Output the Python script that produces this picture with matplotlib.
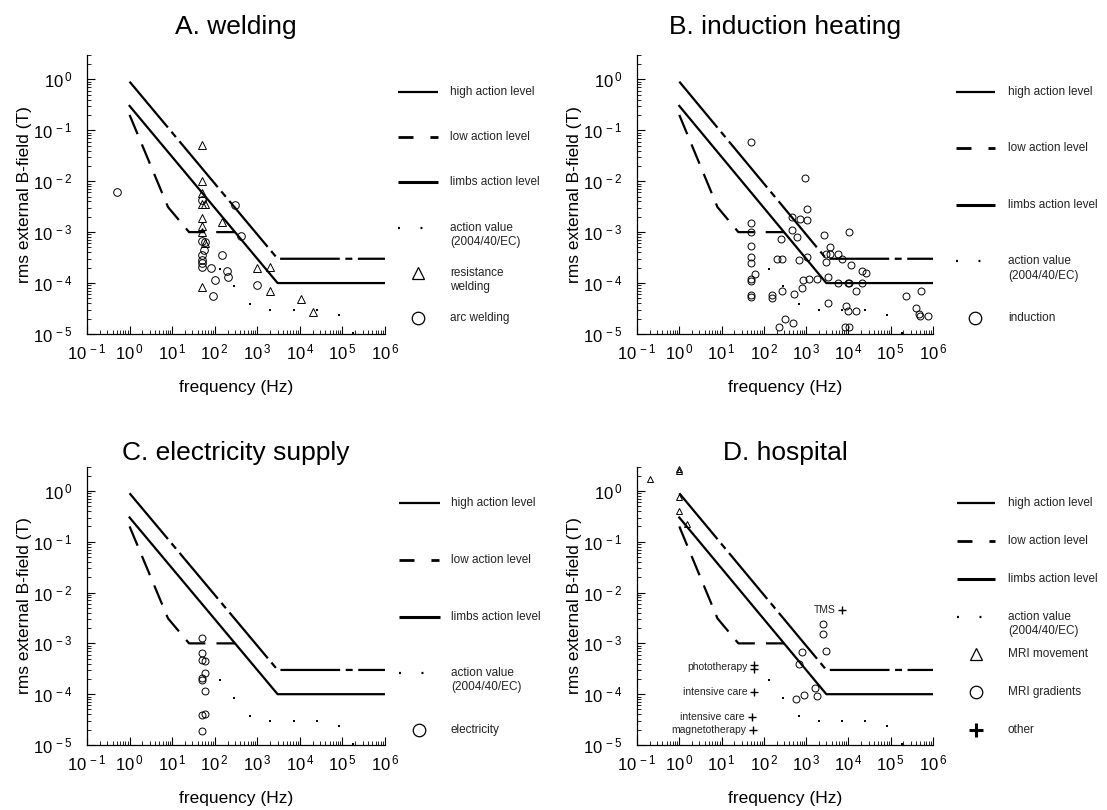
import numpy as np
import matplotlib.pyplot as plt
from matplotlib.ticker import FixedLocator, LogLocator, NullFormatter, FuncFormatter

plt.rcParams['font.family'] = ['Liberation Sans', 'DejaVu Sans']
plt.rcParams['mathtext.default'] = 'regular'
plt.rcParams['lines.scale_dashes'] = False

# limit curves (frequency in Hz, B in T)
hal_f = [1, 3000, 1e6]          # high action level (solid)
hal_B = [0.3, 1e-4, 1e-4]
lal_f = [1, 8, 25, 300]         # low action level (dashed)
lal_B = [0.2, 3.1e-3, 1e-3, 1e-3]
limbs_f = [1, 3000, 1e6]        # limbs action level (dash-dot)
limbs_B = [0.9, 3e-4, 3e-4]
av_f = [130, 290, 660, 2000, 7100, 25000, 81000, 180000]   # action value 2004/40/EC
av_B = [1.9e-4, 8.6e-5, 3.8e-5, 3.0e-5, 3.0e-5, 3.0e-5, 2.4e-5, 1.05e-5]

# A. welding
arc_f = [0.5, 50, 50, 57, 50, 50, 50, 50, 60, 300, 420, 147, 83, 193, 200, 99, 89, 980]
arc_B = [6.2e-3, 4.3e-3, 6.8e-4, 4.5e-4, 3.6e-4, 2.9e-4, 2.5e-4, 2.1e-4, 6.4e-4,
         3.4e-3, 8.3e-4, 3.6e-4, 2.0e-4, 1.7e-4, 1.3e-4, 1.15e-4, 5.6e-5, 9.2e-5]
res_f = [50, 50, 50, 50, 60, 50, 50, 50, 147, 60, 50, 980, 2000, 2000, 10700, 20000]
res_B = [0.052, 1.0e-2, 5.9e-3, 3.5e-3, 3.6e-3, 1.9e-3, 1.3e-3, 1.0e-3, 1.6e-3,
         6.1e-4, 8.5e-5, 2.0e-4, 2.1e-4, 7.1e-5, 4.9e-5, 2.7e-5]

# B. induction heating
ind_f = [50, 50, 50, 50, 50, 50, 50, 50, 62, 50,
         50, 154, 154, 200, 265, 255, 265, 230, 316, 500,
         525, 470, 620, 470, 710, 690, 800, 830, 940, 1020,
         1020, 1020, 1150, 1780, 2640, 2940, 3000, 3600, 3600, 3300,
         3300, 5700, 5700, 7100, 10500, 11400, 9000, 10000, 15500, 15500,
         10000, 10500, 21000, 21000, 26000, 8300, 10400, 234000, 510000, 405000,
         457000, 480000, 760000]
ind_B = [0.06, 1.5e-3, 1.0e-3, 5.4e-4, 3.2e-4, 2.5e-4, 1.2e-4, 1.1e-4, 1.5e-4, 5.8e-5,
         5.4e-5, 5.8e-5, 5.0e-5, 3.0e-4, 3.0e-4, 7.2e-4, 7.1e-5, 1.4e-5, 2.0e-5, 1.65e-5,
         6.0e-5, 1.1e-3, 8.1e-4, 2.0e-3, 1.8e-3, 2.9e-4, 8.0e-5, 1.15e-4, 1.14e-2, 2.9e-3,
         1.7e-3, 3.2e-4, 1.2e-4, 1.2e-4, 8.7e-4, 2.6e-4, 3.8e-4, 3.8e-4, 5.0e-4, 1.3e-4,
         4.0e-5, 3.8e-4, 1.0e-4, 3.0e-4, 1.0e-3, 2.3e-4, 3.5e-5, 2.8e-5, 2.8e-5, 7.0e-5,
         1.0e-4, 1.0e-4, 1.0e-4, 1.7e-4, 1.6e-4, 1.35e-5, 1.35e-5, 5.6e-5, 6.9e-5, 3.2e-5,
         2.5e-5, 2.3e-5, 2.3e-5]

# C. electricity supply
el_f = [50, 50, 50, 60, 60, 50, 50, 60, 50, 60, 50]
el_B = [1.3e-3, 6.6e-4, 4.7e-4, 4.4e-4, 2.6e-4, 2.1e-4, 1.9e-4, 1.15e-4, 3.9e-5, 4.0e-5, 1.9e-5]

# D. hospital
mov_f = [0.2, 1, 1, 1, 1, 1.5]
mov_B = [1.7, 2.7, 2.5, 0.76, 0.40, 0.22]
grad_f = [2500, 2450, 2930, 780, 680, 1660, 1820, 910, 575]
grad_B = [2.4e-3, 1.5e-3, 7.2e-4, 6.9e-4, 4.0e-4, 1.3e-4, 9.4e-5, 9.7e-5, 8.0e-5]
other_f = [7200, 60, 60, 60, 52, 56]
other_B = [4.5e-3, 3.7e-4, 3.2e-4, 1.1e-4, 3.6e-5, 2.0e-5]
other_labels = ['TMS', 'phototherapy', '', 'intensive care', 'intensive care', 'magnetotherapy']

W, H = 1107, 810
fig = plt.figure(figsize=(W / 100, H / 100), dpi=100)


def px_axes(x0, y0, x1, y1):
    return fig.add_axes([x0 / W, 1 - y1 / H, (x1 - x0) / W, (y1 - y0) / H])


def setup(ax, title, ty):
    ax.set_xscale('log')
    ax.set_yscale('log')
    ax.set_xlim(0.1, 1e6)
    ax.set_ylim(1e-5, 3)
    for s in ['top', 'right']:
        ax.spines[s].set_visible(False)
    for s in ['left', 'bottom']:
        ax.spines[s].set_linewidth(0.9)
    fmt = FuncFormatter(lambda v, p: r'$10^{\,%d}$' % int(round(np.log10(v))))
    ax.xaxis.set_major_locator(FixedLocator(10.0 ** np.arange(-1, 7)))
    ax.yaxis.set_major_locator(FixedLocator(10.0 ** np.arange(-5, 1)))
    for a in (ax.xaxis, ax.yaxis):
        a.set_minor_locator(LogLocator(base=10, subs=np.arange(2, 10), numticks=30))
        a.set_minor_formatter(NullFormatter())
        a.set_major_formatter(fmt)
    ax.tick_params(which='both', direction='in')
    ax.tick_params(which='major', length=5.5, width=0.8, labelsize=12)
    ax.tick_params(which='minor', length=3, width=0.6)
    ax.tick_params(axis='x', pad=6)
    ax.tick_params(axis='y', pad=10)
    ax.set_xlabel('frequency (Hz)', fontsize=12.5)
    ax.set_ylabel('rms external B-field (T)', fontsize=12.5)
    ax.xaxis.set_label_coords(0.5, -0.165)
    ax.yaxis.set_label_coords(-0.185, 0.5)
    ax.text(0.5, ty, title, transform=ax.transAxes, ha='center', va='center', fontsize=19)
    # limit curves
    ax.plot(limbs_f, limbs_B, color='k', lw=1.6, ls=(0, (43, 4, 5, 4)))
    ax.plot(hal_f, hal_B, color='k', lw=1.6)
    ax.plot(lal_f, lal_B, color='k', lw=1.6, ls=(0, (15, 8)))
    ax.plot(av_f, av_B, ls='none', marker='s', ms=1.8, mew=0, color='k')


def pts(ax, f, b, marker, ms=5.5, mew=0.7):
    ax.plot(f, b, ls='none', marker=marker, ms=ms, mfc='none', mec='k', mew=mew,
            clip_on=False, zorder=3)


KEY_STYLES = {
    'hal': dict(color='k', lw=1.6),
    'lal': dict(color='k', lw=2.0, ls=(0, (10.8, 12.2, 5.8, 30))),
    'limbs': dict(color='k', lw=2.2),
    'av': dict(color='k', lw=1.6, ls=(0, (1.4, 14.8))),
}
MARKER_KEYS = {'^': dict(ms=9, mew=0.9), 'o': dict(ms=9, mew=0.9), '+': dict(ms=10, mew=2.2)}
BASE_ENTRIES = [('high action level', 'hal'), ('low action level', 'lal'),
                ('limbs action level', 'limbs'), ('action value\n(2004/40/EC)', 'av')]


def add_legend(k0, k1, xt, y0, y1, entries):
    rows = np.linspace(y0, y1, len(entries))
    x_hi = min(W, xt + 120)
    lg = px_axes(k0 - 8, y0 - 20, x_hi, y1 + 30)
    lg.set_xlim(k0 - 8, x_hi)
    lg.set_ylim(y1 + 30, y0 - 20)
    lg.axis('off')
    for y, (label, kind) in zip(rows, entries):
        if kind in KEY_STYLES:
            lg.plot([k0, k1], [y, y], solid_capstyle='butt', dash_capstyle='butt',
                    **KEY_STYLES[kind])
        else:
            lg.plot([(k0 + k1) / 2], [y], ls='none', marker=kind, mfc='none', mec='k',
                    color='k', **MARKER_KEYS[kind])
        for i, line in enumerate(label.split('\n')):
            lg.text(xt, y + 14 * i, line, va='center', ha='left', fontsize=8.5, color='#222222')


axA = px_axes(87, 55, 385, 334)
setup(axA, 'A. welding', 1.1)
pts(axA, res_f, res_B, '^', ms=5.5)
pts(axA, arc_f, arc_B, 'o', ms=5.5)
add_legend(398, 438, 450, 92, 318,
           BASE_ENTRIES + [('resistance\nwelding', '^'), ('arc welding', 'o')])

axB = px_axes(637, 55, 933, 334)
setup(axB, 'B. induction heating', 1.1)
pts(axB, ind_f, ind_B, 'o', ms=5)
add_legend(956, 995, 1008, 92, 318, BASE_ENTRIES + [('induction', 'o')])

axC = px_axes(87, 466.7, 385, 745)
setup(axC, 'C. electricity supply', 1.049)
pts(axC, el_f, el_B, 'o', ms=5)
add_legend(399, 440, 451, 503, 730, BASE_ENTRIES + [('electricity', 'o')])

axD = px_axes(637, 466.7, 933, 745)
setup(axD, 'D. hospital', 1.049)
pts(axD, mov_f, mov_B, '^', ms=4.5)
pts(axD, grad_f, grad_B, 'o', ms=5)
axD.plot(other_f, other_B, ls='none', marker='+', ms=6, mew=1, color='k', zorder=3)
for f, b, lab in zip(other_f, other_B, other_labels):
    if lab:
        axD.annotate(lab, (f, b), xytext=(-5, -1.5 if lab == 'phototherapy' else 0),
                     textcoords='offset points', ha='right', va='center',
                     fontsize=7.5, color='#222222')
add_legend(957, 995, 1008, 503, 730,
           BASE_ENTRIES + [('MRI movement', '^'), ('MRI gradients', 'o'), ('other', '+')])

fig.savefig('out.png', dpi=100)
